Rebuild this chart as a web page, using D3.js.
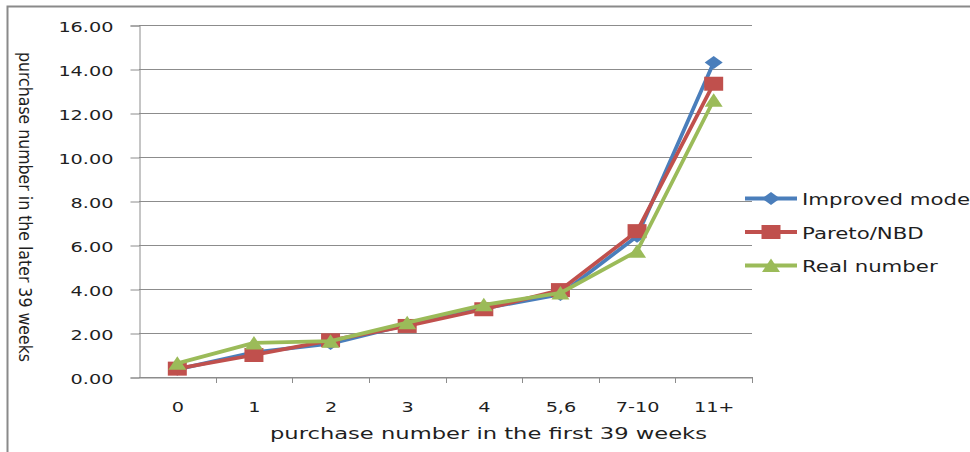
<!DOCTYPE html>
<html><head><meta charset="utf-8">
<script src="https://d3js.org/d3.v7.min.js"></script>
<style>
html,body{margin:0;padding:0;background:#fff;}
svg{display:block;}
text{font-family:"DejaVu Sans",Verdana,sans-serif;fill:#1f1f1f;}
</style></head>
<body>
<svg id="chart" width="970" height="452"></svg>
<script>
const categories = ["0","1","2","3","4","5,6","7-10","11+"];
const improvedModel = [0.35, 1.12, 1.52, 2.38, 3.12, 3.75, 6.40, 14.30];
const paretoNBD     = [0.38, 1.00, 1.67, 2.32, 3.08, 3.95, 6.63, 13.33];
const realNumber    = [0.62, 1.55, 1.63, 2.47, 3.28, 3.82, 5.72, 12.58];
const yTickValues   = [0, 2, 4, 6, 8, 10, 12, 14, 16];
const seriesNames   = ["Improved model", "Pareto/NBD", "Real number"];
const xTitle = "purchase number in the first 39 weeks";
const yTitle = "purchase number in the later 39 weeks";

const series = [
  {name: seriesNames[0], values: improvedModel, color: "#4A7EBB", marker: "diamond"},
  {name: seriesNames[1], values: paretoNBD,     color: "#C0504D", marker: "square"},
  {name: seriesNames[2], values: realNumber,    color: "#9BBB59", marker: "triangle"}
];

const svg = d3.select("#chart");
const L = 139, R = 752, T = 25, B = 377;
const SX = 1.4; // horizontal stretch of the source picture

function stretch(sel, k) {
  sel.each(function() {
    const w = this.getComputedTextLength();
    d3.select(this).attr("textLength", w * k).attr("lengthAdjust", "spacingAndGlyphs");
  });
}

// outer border
svg.append("rect").attr("x", 7.5).attr("y", 6.5).attr("width", 1000).attr("height", 500)
  .attr("fill", "none").attr("stroke", "#8a8a8a").attr("stroke-width", 2);

const x = d3.scaleBand().domain(categories).range([L, R]);
const y = d3.scaleLinear().domain([0, 16]).range([B, T]);

// gridlines
svg.append("g").selectAll("line").data(yTickValues).join("line")
  .attr("x1", L).attr("x2", R)
  .attr("y1", d => Math.round(y(d)) + 0.5).attr("y2", d => Math.round(y(d)) + 0.5)
  .attr("stroke", "#8c8c8c").attr("stroke-width", 1);

// y axis
const yAxis = svg.append("g").attr("transform", `translate(${L + 0.5},0.5)`)
  .call(d3.axisLeft(y).tickValues(yTickValues).tickSize(9).tickPadding(17).tickFormat(d3.format(".2f")));
yAxis.select(".domain").attr("stroke", "#8c8c8c");
yAxis.selectAll(".tick line").attr("stroke", "#8c8c8c");
yAxis.selectAll(".tick text").attr("font-size", 13.75).attr("dy", 6.2)
  .attr("font-family", "DejaVu Sans").attr("fill", "#1f1f1f").call(stretch, SX);

// x axis
const xAxis = svg.append("g").attr("transform", `translate(0.5,${B + 0.5})`)
  .call(d3.axisBottom(x).tickSize(0).tickPadding(25));
xAxis.select(".domain").attr("stroke", "#8c8c8c");
xAxis.selectAll(".tick text").attr("font-size", 13.75)
  .attr("font-family", "DejaVu Sans").attr("fill", "#1f1f1f").call(stretch, SX);
// category boundary tick marks
const bounds = categories.map(c => x(c) + x.bandwidth());
svg.append("g").selectAll("line").data(bounds).join("line")
  .attr("x1", d => Math.round(d) + 0.5).attr("x2", d => Math.round(d) + 0.5)
  .attr("y1", B).attr("y2", B + 6).attr("stroke", "#8c8c8c");

// markers
function markerPath(type) {
  if (type === "diamond") return "M0,-6.5L9,0L0,6.5L-9,0Z";
  if (type === "square") return "M-9.5,-7H9.5V7H-9.5Z";
  return "M0,-7L9,6.5L-9,6.5Z";
}

const line = d3.line().x((d, i) => x(categories[i]) + x.bandwidth() / 2).y(d => y(d));
series.forEach(s => {
  const g = svg.append("g");
  g.append("path").attr("d", line(s.values)).attr("fill", "none")
    .attr("stroke", s.color).attr("stroke-width", 3.8).attr("stroke-linejoin", "round");
  g.selectAll("path.m").data(s.values).join("path").attr("class", "m")
    .attr("transform", (d, i) => `translate(${x(categories[i]) + x.bandwidth() / 2},${y(d)})`)
    .attr("d", markerPath(s.marker)).attr("fill", s.color);
});

// legend
const legend = svg.append("g");
series.forEach((s, i) => {
  const cy = 198.5 + i * 33.5;
  legend.append("line").attr("x1", 745).attr("x2", 797).attr("y1", cy).attr("y2", cy)
    .attr("stroke", s.color).attr("stroke-width", 3.8);
  legend.append("path").attr("transform", `translate(771,${cy})`).attr("d", markerPath(s.marker)).attr("fill", s.color);
  legend.append("text").attr("x", 802).attr("y", cy + 6.6).attr("font-size", 16)
    .text(s.name).call(stretch, 1.33);
});

// axis titles
svg.append("text").attr("x", 488.5).attr("y", 438.5).attr("text-anchor", "middle")
  .attr("font-size", 15.5).text(xTitle).attr("textLength", 437).attr("lengthAdjust", "spacingAndGlyphs");
svg.append("text").attr("transform", "translate(19,207) rotate(90)").attr("text-anchor", "middle")
  .attr("font-family", "Liberation Sans").attr("font-size", 17)
  .text(yTitle).attr("textLength", 310).attr("lengthAdjust", "spacingAndGlyphs");
</script>
</body></html>
